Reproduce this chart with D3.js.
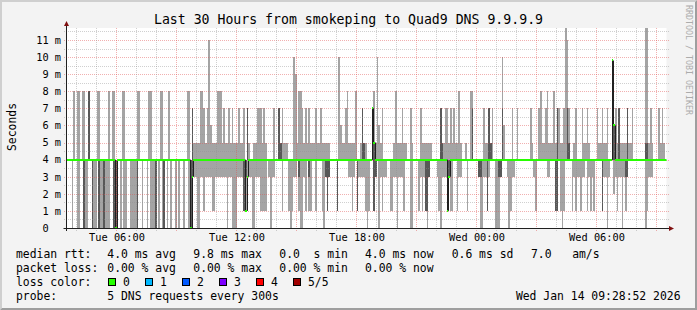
<!DOCTYPE html>
<html>
<head>
<meta charset="utf-8">
<title>Last 30 Hours from smokeping to Quad9 DNS 9.9.9.9</title>
<script src="https://cdn.jsdelivr.net/npm/d3@7"></script>
<style>
html, body { margin: 0; padding: 0; background: #f3f3f3; }
svg { display: block; }
text { font-family: "DejaVu Sans Mono", monospace; white-space: pre; }
</style>
</head>
<body>
<div id="graph"></div>
<script>
// 360 samples, one every 300s, Tue 03:30 -> Wed 09:30
// one char per sample, in ms: 0-9, a=10, b=11, c=12 (off the top), n=9.8
var PING_LO =
    "4440440044 0004400040 0000004400 4404004400 0004404404 0000404004 " +
    "0404404044 0440033300 3313333113 3333330330 0033331133 3003331111 " +
    "4303344441 4441013341 0031411441 4441031344 4414444443 3134133331 " +
    "0144134031 3344113303 3314440044 4131310344 4431033313 1144133444 " +
    "1444444300 3313444000 3444301334 4444444444 3144444433 4441141014 " +
    "4441313313 3413131444 4133034423 1330313444 4444444013 3344444444";
var PING_Q1 =
    "4444444444 0444404440 4404444400 4444444444 4404444444 4440444404 " +
    "4444444444 4444034444 4444444444 4444444444 4444441344 4444444444 " +
    "4444444444 4444444443 4444434444 4444431344 4414444444 4444144444 " +
    "4444134444 4444444444 4444444444 4444411344 4444444413 4444444444 " +
    "4444444334 4414444443 3444444444 4444444444 4444444444 4441144444 " +
    "4444444444 4444444444 4144444444 4444433444 4444444444 4444444444";
var PING_MED =
    "4444444444 4444444444 4444444440 4444444444 4444444444 4444444444 " +
    "4444444444 4444034444 4444444444 4444444444 4444444134 4444444444 " +
    "4444444444 4444444444 4444444444 4444444444 4444444444 4444444444 " +
    "4447544444 4444444444 4444444444 4444444444 4444444413 4444444444 " +
    "4444444444 4444444444 4444444444 4444444444 4444444444 4444444444 " +
    "4444444444 4444444444 4444444n64 4444444444 4444444444 4444444444";
var PING_Q3 =
    "4444444444 4448444444 4444444444 4444444444 4444444444 4444444444 " +
    "4444444444 4444474444 4444444444 4444444444 4444444474 4444444444 " +
    "4444444754 4444444444 4444444444 4444444444 4444444444 4444444754 " +
    "4447544444 4444444444 4444444444 4444444444 4444754444 4444444444 " +
    "4447444444 4447544444 4744444444 4444444444 4444444444 4444744444 " +
    "7544444444 4444444444 4444444n64 4744447444 4444444554 4444444444";
var PING_HI =
    "4444848848 8448444488 4444484884 4448844444 4488444448 8444448844 " +
    "4844444444 4488475555 88757b6555 8885755757 5557557475 4455777575 " +
    "4444744757 555444a958 8757575557 5575555544 444a655785 5558445755 " +
    "444785a657 4444445855 5755447544 4475555554 4444755775 7575585445 " +
    "4488444444 7557574444 4a64444744 7444444475 4447855785 558577557c " +
    "b744574447 5575444475 5755744n67 5755557557 4444444cc5 7544475754";

var CODE = { a: 10, b: 11, c: 12, n: 9.8 };

var Y_TICKS = [0, 1, 2, 3, 4, 5, 6, 7, 8, 9, 10, 11];
var Y_TICK_LABELS = ["0  ", "1 m", "2 m", "3 m", "4 m", "5 m", "6 m", "7 m", "8 m", "9 m", "10 m", "11 m"];

var LOSS_COLORS = ["#26ff00", "#00b8ff", "#0059ff", "#7e00ff", "#ff0000", "#a10000"];
var LOSS_LABELS = ["0", "1", "2", "3", "4", "5/5"];

var RTT_LEGEND = ["median rtt:", "4.0 ms avg", "9.8 ms max", "0.0  s min", "4.0 ms now", "0.6 ms sd", "7.0   am/s"];
var LOSS_LEGEND = ["packet loss:", "0.00 % avg", "0.00 % max", "0.00 % min", "0.00 % now"];
var PROBE_LEGEND = ["probe:", "5 DNS requests every 300s"];

var TITLE = "Last 30 Hours from smokeping to Quad9 DNS 9.9.9.9";
var STAMP = "Wed Jan 14 09:28:52 2026";

var W = 697, H = 310;
var PLOT = { left: 66.5, right: 666.5, top: 28, bottom: 228 };
var STEP = 300;
var T_START = new Date(Date.UTC(2026, 0, 13, 3, 30));
var T_END = new Date(Date.UTC(2026, 0, 14, 9, 30));

function decode(s) {
    return s.replace(/\s/g, "").split("").map(function(c) {
        return (c in CODE) ? CODE[c] : +c;
    });
}

var lo = decode(PING_LO), q1 = decode(PING_Q1), med = decode(PING_MED),
    q3 = decode(PING_Q3), hi = decode(PING_HI);

var samples = lo.map(function(d, i) {
    return {
        t0: new Date(+T_START + i * STEP * 1000),
        t1: new Date(+T_START + (i + 1) * STEP * 1000),
        lo: lo[i], q1: q1[i], med: med[i], q3: q3[i], hi: hi[i]
    };
});

var x = d3.scaleUtc().domain([T_START, T_END]).range([PLOT.left, PLOT.right]);
var y = d3.scaleLinear().domain([0, 11.7]).range([PLOT.bottom, PLOT.top]);

var svg = d3.select("#graph").append("svg")
    .attr("width", W)
    .attr("height", H);

// back + 3d border
svg.append("rect").attr("width", W).attr("height", H).attr("fill", "#f3f3f3");
svg.append("path").attr("fill", "#cfcfcf")
    .attr("d", "M0 0 H" + W + " L" + (W - 2) + " 2 H2 V" + (H - 2) + " L0 " + H + " Z");
svg.append("path").attr("fill", "#9e9e9e")
    .attr("d", "M" + W + " 0 V" + H + " H0 L2 " + (H - 2) + " H" + (W - 2) + " V2 Z");

// canvas
svg.append("rect")
    .attr("x", PLOT.left).attr("y", PLOT.top)
    .attr("width", PLOT.right - PLOT.left).attr("height", PLOT.bottom - PLOT.top)
    .attr("fill", "#ffffff");

svg.append("clipPath").attr("id", "plotclip")
    .append("rect")
    .attr("x", PLOT.left).attr("y", PLOT.top)
    .attr("width", PLOT.right - PLOT.left).attr("height", PLOT.bottom - PLOT.top);

var plot = svg.append("g").attr("clip-path", "url(#plotclip)");

// smoke: outer pair light, inner pair dark
function smoke(cls, lowKey, highKey, color) {
    plot.append("g").attr("class", cls)
        .selectAll("rect")
        .data(samples.filter(function(d) { return d[highKey] > d[lowKey]; }))
        .join("rect")
        .attr("shape-rendering", "crispEdges")
        .attr("x", function(d) { return x(d.t0); })
        .attr("width", function(d) { return x(d.t1) - x(d.t0); })
        .attr("y", function(d) { return y(d[highKey]); })
        .attr("height", function(d) { return y(d[lowKey]) - y(d[highKey]); })
        .attr("fill", color);
}
smoke("smoke1", "lo", "hi", "#a4a4a4");
smoke("smoke2", "q1", "q3", "#585858");

// grid, dotted, over the smoke
var grid = svg.append("g").attr("class", "grid")
    .attr("shape-rendering", "crispEdges")
    .attr("stroke-dasharray", "1,1");
var yMinor = d3.range(0.5, 11.7, 1);
grid.selectAll(".hminor").data(yMinor).join("line")
    .attr("x1", 64).attr("x2", 669)
    .attr("y1", function(d) { return Math.round(y(d)) + 0.5; })
    .attr("y2", function(d) { return Math.round(y(d)) + 0.5; })
    .attr("stroke", "#8f8f8f")
    .attr("stroke-opacity", 0.42);
grid.selectAll(".hmajor").data(Y_TICKS.slice(1)).join("line")
    .attr("x1", 64).attr("x2", 669)
    .attr("y1", function(d) { return Math.round(y(d)) + 0.5; })
    .attr("y2", function(d) { return Math.round(y(d)) + 0.5; })
    .attr("stroke", "#e05050")
    .attr("stroke-opacity", 0.45);

var hours = x.ticks(d3.utcHour.every(1));
grid.selectAll(".vline").data(hours).join("line")
    .attr("x1", function(d) { return Math.floor(x(d)) + 0.5; })
    .attr("x2", function(d) { return Math.floor(x(d)) + 0.5; })
    .attr("y1", PLOT.top).attr("y2", PLOT.bottom + 3)
    .attr("stroke", function(d) { return d.getUTCHours() % 3 === 0 ? "#e05050" : "#8f8f8f"; })
    .attr("stroke-opacity", function(d) { return d.getUTCHours() % 3 === 0 ? 0.45 : 0.42; });

// median: dark risers where it jumps, green (0 loss) for the level
var medLayer = svg.append("g").attr("clip-path", "url(#plotclip)");
var risers = [];
samples.forEach(function(d, i) {
    if (i > 0 && samples[i - 1].med !== d.med) risers.push([samples[i - 1].med, d.med, d.t0]);
});
medLayer.append("g").selectAll("line")
    .data(risers)
    .join("line")
    .attr("x1", function(d) { return Math.round(x(d[2])) + 0.5; })
    .attr("x2", function(d) { return Math.round(x(d[2])) + 0.5; })
    .attr("y1", function(d) { return y(d[0]); })
    .attr("y2", function(d) { return y(d[1]); })
    .attr("stroke", "#202020")
    .attr("stroke-width", 1);

medLayer.append("g").selectAll("rect")
    .data(samples)
    .join("rect")
    .attr("shape-rendering", "crispEdges")
    .attr("x", function(d) { return x(d.t0); })
    .attr("width", function(d) { return x(d.t1) - x(d.t0); })
    .attr("y", function(d) { return Math.round(y(d.med)) - 1; })
    .attr("height", 2)
    .attr("fill", LOSS_COLORS[0]);

// axes
svg.append("line")
    .attr("x1", PLOT.left - 3).attr("x2", PLOT.right + 3)
    .attr("y1", PLOT.bottom + 0.5).attr("y2", PLOT.bottom + 0.5)
    .attr("stroke", "#202020");
svg.append("line")
    .attr("x1", PLOT.left).attr("x2", PLOT.left)
    .attr("y1", PLOT.bottom + 3).attr("y2", PLOT.top - 3)
    .attr("stroke", "#202020");
svg.append("path").attr("fill", "#801010")
    .attr("d", "M64 26 L69 26 L66.5 21 Z");
svg.append("path").attr("fill", "#801010")
    .attr("d", "M669 226 L669 231 L674 228.5 Z");

var xAxis = svg.append("g")
    .attr("transform", "translate(0," + PLOT.bottom + ")")
    .call(d3.axisBottom(x)
        .tickValues(x.ticks(d3.utcHour.every(6)))
        .tickFormat(d3.utcFormat("%a %H:%M"))
        .tickSize(0)
        .tickPadding(6));
xAxis.select(".domain").remove();
xAxis.selectAll("text")
    .attr("font-family", "DejaVu Sans Mono")
    .attr("font-size", 10.3)
    .attr("fill", "#000");

var yAxis = svg.append("g")
    .attr("transform", "translate(" + PLOT.left + ",0)")
    .call(d3.axisLeft(y)
        .tickValues(Y_TICKS)
        .tickFormat(function(d, i) { return Y_TICK_LABELS[i]; })
        .tickSize(0)
        .tickPadding(5.5));
yAxis.select(".domain").remove();
yAxis.selectAll("text")
    .attr("font-family", "DejaVu Sans Mono")
    .attr("font-size", 10.3)
    .attr("fill", "#000");

// title, vertical label, watermark
svg.append("text")
    .attr("x", 348.5).attr("y", 23.5)
    .attr("text-anchor", "middle")
    .attr("font-size", 13.2)
    .text(TITLE);

svg.append("text")
    .attr("transform", "translate(15.5,127) rotate(-90)")
    .attr("text-anchor", "middle")
    .attr("font-size", 11.4)
    .text("Seconds");

svg.append("text")
    .attr("transform", "translate(685.5,5) rotate(90)")
    .attr("font-size", 8.3)
    .attr("fill", "#acacac")
    .text("RRDTOOL / TOBI OETIKER");

// legend
var COLS = [16, 107.3, 193.3, 279.3, 365, 451.7, 531];
var legend = svg.append("g").attr("font-size", 11.4).attr("fill", "#000");

function legendLine(items, baseline) {
    legend.append("g").selectAll("text")
        .data(items)
        .join("text")
        .attr("x", function(d, i) { return COLS[i]; })
        .attr("y", baseline)
        .text(function(d) { return d; });
}
legendLine(RTT_LEGEND, 258);
legendLine(LOSS_LEGEND, 272);
legendLine(["loss color:"], 286);
legendLine(PROBE_LEGEND, 300);

var BOX_X = [108.5, 145.5, 182.5, 219.5, 256.5, 293.5];
var swatch = legend.append("g").selectAll("g")
    .data(LOSS_LABELS)
    .join("g");
swatch.append("rect")
    .attr("x", function(d, i) { return BOX_X[i]; })
    .attr("y", 278.5)
    .attr("width", 7).attr("height", 7)
    .attr("fill", function(d, i) { return LOSS_COLORS[i]; })
    .attr("stroke", "#000")
    .attr("stroke-width", 1);
swatch.append("text")
    .attr("x", function(d, i) { return BOX_X[i] + 14.5; })
    .attr("y", 286)
    .text(function(d) { return d; });

legend.append("text")
    .attr("x", 680.5).attr("y", 299.5)
    .attr("text-anchor", "end")
    .text(STAMP);
</script>
</body>
</html>
